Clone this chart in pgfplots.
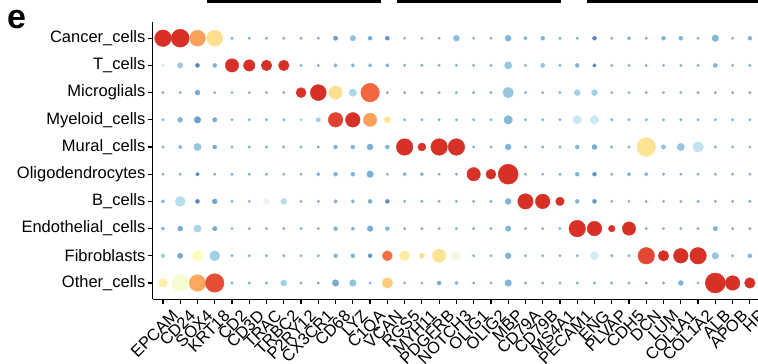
\documentclass[border=0pt]{standalone}
\usepackage{pgfplots}
\pgfplotsset{compat=1.18}
\usepackage{pgfplotstable}
\usepackage{fontspec}
\setmainfont{Liberation Sans}
\pgfplotsset{colormap={rdylbu}{rgb255=(69,117,180) rgb255=(116,173,209) rgb255=(171,217,233) rgb255=(224,243,248) rgb255=(255,255,191) rgb255=(254,224,144) rgb255=(253,174,97) rgb255=(244,109,67) rgb255=(215,48,39)}}
\pgfplotstableread{
g r0 c0 r1 c1 r2 c2 r3 c3 r4 c4 r5 c5 r6 c6 r7 c7 r8 c8 r9 c9
0 8.3 8 1.3 2.5 1.3 1.2 1.3 1.2 1.3 1.2 1.3 1.2 1.8 1.2 1.8 1.2 2.0 1.8 4.3 4.5
1 9 8 2.8 1.7 1.3 1.2 2.5 1.2 1.8 1.2 1.3 1.2 5 2.2 2.5 1.0 2.7 1.0 8.3 3.7
2 8 6.2 2 0.3 2.5 1 3.3 0.8 3.7 1.6 1.8 0.3 2 0.3 3.7 1.9 5.3 4.1 8.3 6.1
3 8 5 2 1.1 1.3 1.2 2.2 1.0 2 1.0 1.3 1.2 2.5 0.9 2.2 1.0 5 1.8 9.3 7.5
4 1.3 1.2 6.7 8 1.3 1.2 1.3 1.2 1.3 1.2 1.3 1.2 1.3 1.2 1.3 1.2 1.3 1.2 1.3 1.2
5 1.3 1.2 5.7 8 1.3 1.2 1.3 1.2 1.3 1.2 1.3 1.2 1.3 1.2 1.3 1.2 1.3 1.2 1.3 1.2
6 1.3 1.2 5.3 8 1.3 1.2 1.3 1.2 1.3 1.2 1.3 1.2 3 3.3 1.3 1.2 1.3 1.2 1.3 1.2
7 1.3 1.2 5.3 8 1.3 1.2 1.3 1.2 1.3 1.2 1.3 1.2 3 2.2 1.3 1.2 1.3 1.2 3 1.8
8 1.3 1.2 1.3 1.2 5 8 1.3 1.8 1.3 1.2 1.3 1.2 1.3 1.2 1.3 1.2 1.3 1.2 1.3 1.2
9 1.3 1.2 1.3 1.2 8 8 2.2 1.8 1.3 1.2 1.8 1.2 1.3 1.2 1.3 1.2 1.3 1.2 1.3 1.2
10 2.2 0.8 1.8 1.2 6.7 5 7.3 7.7 2 1.2 2 1.2 1.8 1.2 2 1.2 2 1.2 3.3 1.0
11 2.8 1.5 1.8 1.2 3.7 2 7.3 8 2 1.2 2 1.2 1.8 1.2 1.8 1.2 2 1.2 3.3 1.5
12 2 1 1.8 1.2 9.3 7.1 6.7 6.2 3 1.1 3.3 1.1 2 1.1 2.8 1.0 2 0.6 1.3 1.2
13 2 0.5 1.8 1.2 1.3 1.2 3.3 4.8 2 1.2 1.3 1.2 2 0.5 2 1.2 5 7 5.3 5.4
14 1.3 1.2 1.3 1.2 1.3 1.2 1.3 1.2 8.3 8 1.8 1.2 1.3 1.2 1.3 1.2 5 4.6 1.3 1.2
15 1.3 1.2 1.3 1.2 1.3 1.2 1.3 1.2 4 8 1.8 1.2 1.3 1.2 1.3 1.2 2.7 5 1.3 1.2
16 1.3 1.2 1.3 1.2 1.3 1.2 1.3 1.2 8.3 8 1.3 1.2 1.3 1.2 1.3 1.2 6.7 4.9 2 1.0
17 3 1.4 1.3 1.2 1.3 1.2 1.3 1.2 8.3 8 1.3 1.2 1.3 1.2 1.3 1.2 4.5 3.5 1.8 1.2
18 1.3 1.2 1.3 1.2 1.3 1.2 1.3 1.2 1.3 1.2 6.7 8 1.3 1.2 1.3 1.2 1.3 1.2 1.3 1.2
19 1.3 1.2 1.3 1.2 1.3 1.2 1.3 1.2 1.3 1.2 5 8 1.3 1.2 1.3 1.2 1.3 1.2 1.3 1.2
20 3 1.2 3.7 1.6 5.3 1.6 4.3 1.3 3 1.2 10 8 3 1.2 2.7 1.2 3 1.2 3.3 1.2
21 1.8 1.2 1.3 1.2 1.3 1.2 1.3 1.2 1.3 1.2 1.3 1.2 7.7 8 1.3 1.2 1.3 1.2 1.3 1.2
22 2 1.2 2.2 1.6 1.3 1.2 1.3 1.2 1.3 1.2 1.3 1.2 7.3 8 1.3 1.2 1.3 1.2 1.3 1.2
23 1.3 1.2 1.3 1.2 1.3 1.2 1.3 1.2 1.3 1.2 1.3 1.2 4.3 8 1.3 1.2 1.3 1.2 1.3 1.2
24 1.3 1.2 2 1.2 3 1.8 4.3 2.6 2 1.2 2 1.2 2 1.2 8.3 8 1.3 1.2 1.3 1.2
25 2 0.3 1.8 0.3 3 1.8 4.3 2.6 2.5 1.0 2 0.6 2 0.6 7.3 8 4 2.7 1.3 1.2
26 1.3 1.2 1.3 1.2 1.3 1.2 1.3 1.2 1.3 1.2 1.3 1.2 1.3 1.2 3.3 8 1.3 1.2 1.3 1.2
27 1.8 1.2 1.3 1.2 1.3 1.2 1.3 1.2 1.3 1.2 1.8 1.2 1.3 1.2 6.7 8 1.3 1.2 1.3 1.2
28 1.3 1.2 1.3 1.2 1.3 1.2 1.3 1.2 9.3 4.9 1.8 1.2 1.3 1.2 1.3 1.2 8.3 7.6 1.3 1.2
29 2 1.2 1.3 1.2 1.3 1.2 1.3 1.2 2.2 1.5 1.3 1.2 1.3 1.2 1.3 1.2 5.3 8 1.3 1.2
30 2 1.2 1.3 1.2 1.3 1.2 1.3 1.2 3.7 1.6 1.3 1.2 1.3 1.2 1.3 1.2 7.3 8 2.5 1.2
31 1.3 1.2 1.3 1.2 1.3 1.2 1.3 1.2 5.3 2.4 1.3 1.2 1.3 1.2 1.3 1.2 8.3 8 1.3 1.2
32 3.3 1.3 2 1.2 1.3 1.2 1.3 1.2 1.3 1.2 1.3 1.2 1.3 1.2 2.2 1.2 3.3 1.6 10 8
33 1.3 1.2 1.3 1.2 1.3 1.2 1.3 1.2 1.3 1.2 1.3 1.2 1.3 1.2 1.3 1.2 1.3 1.2 7.3 8
34 2 1.2 1.3 1.2 1.3 1.2 1.3 1.2 1.3 1.2 1.3 1.2 1.3 1.2 1.3 1.2 2 1.2 5.3 8
}\data
\begin{document}
\begin{tikzpicture}
\useasboundingbox (0,0) rectangle (758pt,364pt);
\clip (0,0) rectangle (758pt,364pt);
\begin{axis}[
  at={(152.6pt,64.7pt)}, anchor=south west,
  scale only axis, width=607.6pt, height=277.4pt,
  xmin=-0.6, xmax=34.6, ymin=-0.6, ymax=9.6,
  axis lines*=left,
  axis line style={black, line width=1.3pt},
  tick align=outside, major tick length=5pt,
  tick style={black, line width=1.2pt},
  xtick={0,...,34},
  xticklabels={EPCAM,CD24,SOX4,KRT18,CD2,CD3D,TRAC,TRBC2,P2RY12,CX3CR1,CD68,LYZ,C1QA,VCAN,RGS5,MYH11,PDGFRB,NOTCH3,OLIG1,OLIG2,MBP,CD79A,CD79B,MS4A1,PECAM1,ENG,PLVAP,CDH5,DCN,LUM,COL1A1,COL1A2,ALB,APOB,HP},
  ytick={0,...,9},
  yticklabels={Other\_cells,Fibroblasts,Endothelial\_cells,B\_cells,Oligodendrocytes,Mural\_cells,Myeloid\_cells,Microglials,T\_cells,Cancer\_cells},
  yticklabel style={font=\fontsize{16.5}{18}\selectfont, anchor=east, inner sep=2pt},
  xticklabel style={font=\fontsize{16.5}{18}\selectfont, xshift=8pt, yshift=-3pt, rotate=45, anchor=north east, inner sep=1pt},
  colormap name=rdylbu, point meta min=0, point meta max=8,
]
\pgfplotsinvokeforeach{0,...,9}{
  \addplot[scatter, only marks, mark=*,
    scatter/use mapped color={draw=mapped color, fill=mapped color},
    point meta=\thisrow{c#1},
    visualization depends on={\thisrow{r#1} \as \rr},
    scatter/@pre marker code/.append style={/tikz/mark size=\rr}]
    table[x=g, y expr=9-#1] {\data};
}
\end{axis}
\node[font=\bfseries\fontsize{34}{34}\selectfont, anchor=base west, inner sep=0pt] at (7pt,335pt) {e};
\draw[line width=2.5pt] (208pt,368pt) -- (208pt,362.5pt) -- (380pt,362.5pt) -- (380pt,368pt);
\draw[line width=2.5pt] (398pt,368pt) -- (398pt,362.5pt) -- (560pt,362.5pt) -- (560pt,368pt);
\draw[line width=2.5pt] (588pt,368pt) -- (588pt,362.5pt) -- (760pt,362.5pt);
\end{tikzpicture}
\end{document}
